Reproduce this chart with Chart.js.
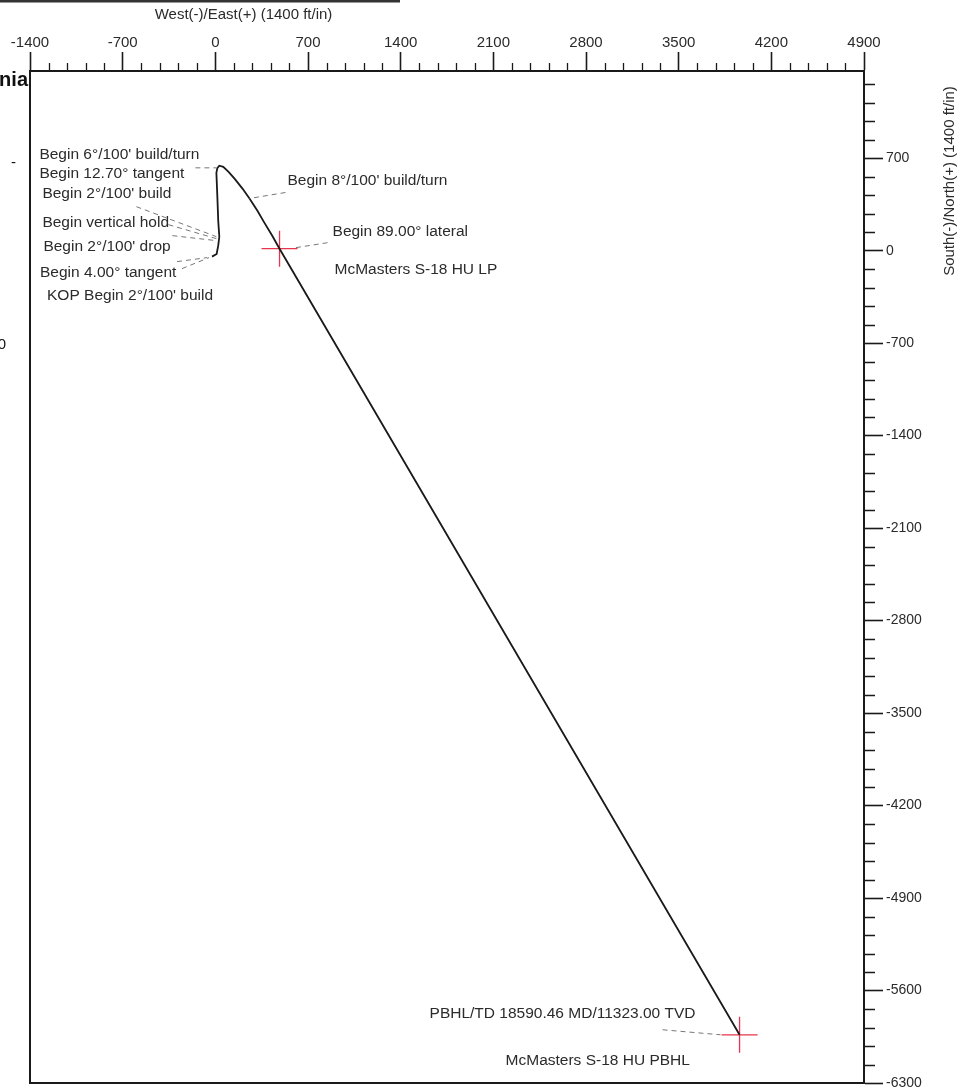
<!DOCTYPE html>
<html>
<head>
<meta charset="utf-8">
<script src="https://cdn.jsdelivr.net/npm/chart.js@4.4.1/dist/chart.umd.min.js"></script>
<style>
  html, body { margin: 0; padding: 0; background: #fff; }
  #wrap { width: 971px; height: 1091px; position: relative; }
</style>
</head>
<body>
<div id="wrap"><canvas id="planView"></canvas></div>
<script>
// well path, plan view (ft)
const eastWest   = [-25, 10, 22, 30, 22, 15, 8, 15, 30, 60, 100, 145, 205, 258, 318, 370, 430, 485, 3960];
const northSouth = [-45, -25, 40, 105, 225, 415, 590, 625, 643, 635, 597, 545, 470, 395, 302, 212, 113, 15, -5935];

// targets (LP, PBHL)
const targetEast  = [485, 3960];
const targetNorth = [15, -5935];

// axis ticks
const xTicks = [-1400, -700, 0, 700, 1400, 2100, 2800, 3500, 4200, 4900];
const yTicks = [-6300, -5600, -4900, -4200, -3500, -2800, -2100, -1400, -700, 0, 700];
const xMin = -1400, xMax = 4900, yMin = -6300, yMax = 1360;
const majorStep = 700, minorStep = 140;

// annotation text, anchored on a path point; offsets in px
const notes = [
  { text: "Begin 6°/100' build/turn", at: [8, 627],  dx: -177, dy: -13, lead: [-21, 0, 0, 0] },
  { text: "Begin 12.70° tangent",     at: [8, 627],  dx: -177, dy: 6 },
  { text: "Begin 2°/100' build",      at: [8, 106],  dx: -174, dy: -43, lead: [-80, -30, 0, 0] },
  { text: "Begin vertical hold",      at: [8, 91],   dx: -174, dy: -16, lead: [-48, -14, 0, 0] },
  { text: "Begin 2°/100' drop",       at: [8, 76],   dx: -173, dy: 6,   lead: [-44, -5, 0, 0] },
  { text: "Begin 4.00° tangent",      at: [-25, -45], dx: -172, dy: 16, lead: [-30, 12, -3, 1] },
  { text: "KOP Begin 2°/100' build",  at: [-25, -45], dx: -165, dy: 39, lead: [-35, 5, -5, 1] },
  { text: "Begin 8°/100' build/turn", at: [258, 395], dx: 38, dy: -18,  lead: [36, -6, 0, 0] },
  { text: "Begin 89.00° lateral",     at: [485, 15],  dx: 53, dy: -17,  lead: [48, -6, 16, -1] },
  { text: "McMasters S-18 HU LP",     at: [485, 15],  dx: 55, dy: 21 },
  { text: "PBHL/TD 18590.46 MD/11323.00 TVD", at: [3960, -5935], dx: -310, dy: -21, lead: [-77, -5, -19, 0] },
  { text: "McMasters S-18 HU PBHL",   at: [3960, -5935], dx: -234, dy: 26 }
];

const inkColor = '#1a1a1a';
const textColor = '#2b2b2b';
const fontFamily = '"Liberation Sans", Arial, sans-serif';

const pathPoints = eastWest.map((e, i) => ({ x: e, y: northSouth[i] }));
const targetPoints = targetEast.map((e, i) => ({ x: e, y: targetNorth[i] }));

const minorTicks = {
  id: 'minorTicks',
  afterDraw(chart) {
    const { ctx, scales: { x, y } } = chart;
    ctx.save();
    ctx.strokeStyle = inkColor;
    ctx.lineWidth = 1.3;
    ctx.beginPath();
    for (let v = xMin; v <= xMax; v += minorStep) {
      if (v % majorStep === 0) continue;
      const px = Math.round(x.getPixelForValue(v)) + 0.5;
      ctx.moveTo(px, x.bottom);
      ctx.lineTo(px, x.bottom - 8);
    }
    for (let v = yMin; v <= yMax; v += minorStep) {
      if (v % majorStep === 0) continue;
      const py = Math.round(y.getPixelForValue(v)) + 0.5;
      ctx.moveTo(y.left, py);
      ctx.lineTo(y.left + 11, py);
    }
    ctx.stroke();
    ctx.restore();
  }
};

const notesPlugin = {
  id: 'notes',
  afterDatasetsDraw(chart) {
    const { ctx, scales: { x, y }, chartArea } = chart;
    ctx.save();
    ctx.font = '15.5px ' + fontFamily;
    ctx.fillStyle = textColor;
    ctx.textBaseline = 'middle';
    ctx.textAlign = 'left';
    notes.forEach(n => {
      const px = x.getPixelForValue(n.at[0]);
      const py = y.getPixelForValue(n.at[1]);
      ctx.fillText(n.text, px + n.dx, py + n.dy);
      if (n.lead) {
        ctx.save();
        ctx.strokeStyle = '#777';
        ctx.lineWidth = 1;
        ctx.setLineDash([5, 4]);
        ctx.beginPath();
        ctx.moveTo(px + n.lead[0], py + n.lead[1]);
        ctx.lineTo(px + n.lead[2], py + n.lead[3]);
        ctx.stroke();
        ctx.restore();
      }
    });

    // axis titles
    ctx.font = '15px ' + fontFamily;
    ctx.textAlign = 'center';
    const w = chartArea.right - chartArea.left;
    ctx.fillText('West(-)/East(+) (1400 ft/in)', chartArea.left + w * 0.256, 15);
    ctx.save();
    ctx.translate(chart.width - 21, chartArea.top + 110);
    ctx.rotate(-Math.PI / 2);
    ctx.fillText('South(-)/North(+) (1400 ft/in)', 0, 0);
    ctx.restore();

    // clipped neighbour sheet on the left edge
    ctx.textAlign = 'right';
    ctx.font = 'bold 20px ' + fontFamily;
    ctx.fillStyle = '#111';
    ctx.fillText('nia', chartArea.left - 2, 80);
    ctx.font = '15px ' + fontFamily;
    ctx.fillText('-', 16, 163);
    ctx.fillText('0', 6, 345);
    ctx.strokeStyle = '#333';
    ctx.lineWidth = 3;
    ctx.beginPath();
    ctx.moveTo(0, 1);
    ctx.lineTo(400, 1);
    ctx.stroke();
    ctx.restore();
  }
};

new Chart(document.getElementById('planView').getContext('2d'), {
  type: 'scatter',
  data: {
    datasets: [{
      label: 'Well path',
      data: pathPoints,
      showLine: true,
      borderColor: inkColor,
      borderWidth: 1.8,
      pointRadius: 0,
      tension: 0
    }, {
      label: 'Targets',
      data: targetPoints,
      pointStyle: 'cross',
      pointRadius: 18,
      borderColor: '#e8344c',
      borderWidth: 1.3,
      showLine: false
    }]
  },
  options: {
    responsive: true,
    maintainAspectRatio: false,
    animation: false,
    layout: { padding: 0, autoPadding: false },
    plugins: {
      legend: { display: false },
      tooltip: { enabled: false }
    },
    scales: {
      x: {
        type: 'linear',
        position: 'top',
        min: xMin,
        max: xMax,
        afterBuildTicks: s => { s.ticks = xTicks.map(v => ({ value: v })); },
        ticks: {
          color: textColor,
          padding: 0,
          maxRotation: 0,
          autoSkip: false,
          font: { family: fontFamily, size: 15 },
          callback: v => String(v)
        },
        grid: { drawOnChartArea: false, tickLength: 19, tickColor: inkColor, tickWidth: 1.6 },
        border: { color: inkColor, width: 2 },
        afterFit: s => { s.height = 71; s.paddingLeft = 0; s.paddingRight = 0; }
      },
      y: {
        type: 'linear',
        position: 'right',
        min: yMin,
        max: yMax,
        afterBuildTicks: s => { s.ticks = yTicks.map(v => ({ value: v })); },
        ticks: {
          color: textColor,
          padding: 3,
          autoSkip: false,
          font: { family: fontFamily, size: 14 },
          callback: v => String(v)
        },
        grid: { drawOnChartArea: false, tickLength: 19, tickWidth: 1.6, tickColor: inkColor },
        border: { color: inkColor, width: 2 },
        afterFit: s => { s.width = 107; s.paddingTop = 0; s.paddingBottom = 0; }
      },
      xFrame: {
        type: 'linear',
        position: 'bottom',
        ticks: { display: false },
        grid: { drawOnChartArea: false, drawTicks: false },
        border: { color: inkColor, width: 2 },
        afterFit: s => { s.height = 8; }
      },
      yFrame: {
        type: 'linear',
        position: 'left',
        ticks: { display: false },
        grid: { drawOnChartArea: false, drawTicks: false },
        border: { color: inkColor, width: 2 },
        afterFit: s => { s.width = 30; }
      }
    }
  },
  plugins: [minorTicks, notesPlugin]
});
</script>
</body>
</html>
